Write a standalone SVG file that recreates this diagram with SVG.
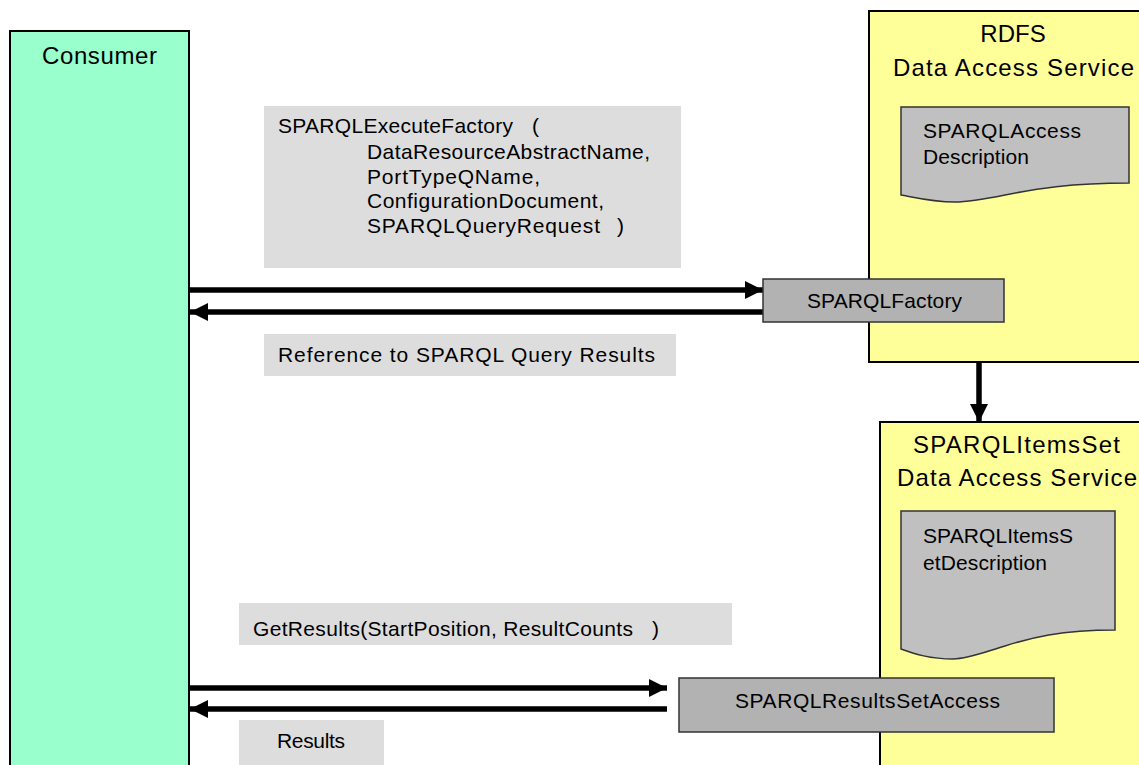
<svg xmlns="http://www.w3.org/2000/svg" width="1139" height="765" viewBox="0 0 1139 765">
  <style>
    text { font-family: "Liberation Sans", Arial, sans-serif; fill: #000; }
    .title { font-size: 24px; }
    .lbl { font-size: 21px; }
    .lane { stroke: #000; stroke-width: 2; }
    .doc { fill: #C0C0C0; stroke: #333; stroke-width: 1.5; }
    .op { fill: #B2B2B2; stroke: #333; stroke-width: 1.5; }
    .note { fill: #DDDDDD; }
    .flow { stroke: #000; stroke-width: 5.5; fill: none; }
  </style>
  <defs>
    <marker id="head" markerUnits="userSpaceOnUse" markerWidth="18" markerHeight="18" viewBox="0 0 18 18" refX="18" refY="9" orient="auto">
      <path d="M0,0 L18,9 L0,18 Z" fill="#000"/>
    </marker>
  </defs>

  <rect width="1139" height="765" fill="#fff"/>

  <!-- Consumer lane -->
  <g id="consumer">
    <rect class="lane" x="10" y="31" width="179" height="740" fill="#99FFCC"/>
    <text class="title" x="42" y="64" textLength="115">Consumer</text>
  </g>

  <!-- RDFS data access service -->
  <g id="rdfs-service">
    <rect class="lane" x="869" y="11" width="280" height="351" fill="#FFFF99"/>
    <text class="title" x="1013" y="42" text-anchor="middle">RDFS</text>
    <text class="title" x="893" y="76" textLength="241">Data Access Service</text>
  </g>
  <g id="sparql-access-description">
    <path class="doc" d="M901,107 H1129 V183 C1070,183 1035,189 1005,195 C985,199 968,202 955,202 C933,202 917,198 901,195 Z"/>
    <text class="lbl" x="923" y="138" textLength="158">SPARQLAccess</text>
    <text class="lbl" x="923" y="164" textLength="106">Description</text>
  </g>

  <!-- Items set data access service -->
  <g id="itemsset-service">
    <rect class="lane" x="880" y="422" width="270" height="350" fill="#FFFF99"/>
    <text class="title" x="913" y="453" textLength="207">SPARQLItemsSet</text>
    <text class="title" x="897" y="486" textLength="240">Data Access Service</text>
  </g>
  <g id="itemsset-description">
    <path class="doc" d="M901,511 H1115 V630 C1060,630 1030,638 1005,646 C985,652 968,659 953,659 C930,659 915,654 901,649 Z"/>
    <text class="lbl" x="923" y="543" textLength="150">SPARQLItemsS</text>
    <text class="lbl" x="923" y="570" textLength="124">etDescription</text>
  </g>

  <!-- Message notes -->
  <g id="note-execute">
    <rect class="note" x="264" y="106" width="417" height="162"/>
    <text class="lbl" x="278" y="133" textLength="235">SPARQLExecuteFactory</text>
    <text class="lbl" x="532" y="133">(</text>
    <text class="lbl" x="367" y="159" textLength="283">DataResourceAbstractName,</text>
    <text class="lbl" x="367" y="184" textLength="173">PortTypeQName,</text>
    <text class="lbl" x="367" y="208" textLength="237">ConfigurationDocument,</text>
    <text class="lbl" x="367" y="233" textLength="233">SPARQLQueryRequest</text>
    <text class="lbl" x="617" y="233">)</text>
  </g>
  <g id="note-reference">
    <rect class="note" x="264" y="334" width="412" height="42"/>
    <text class="lbl" x="278" y="362" textLength="377">Reference to SPARQL Query Results</text>
  </g>
  <g id="note-getresults">
    <rect class="note" x="239" y="603" width="493" height="42"/>
    <text class="lbl" x="253" y="636" textLength="380">GetResults(StartPosition, ResultCounts</text>
    <text class="lbl" x="652" y="636">)</text>
  </g>
  <g id="note-results">
    <rect class="note" x="239" y="720" width="145" height="50"/>
    <text class="lbl" x="277" y="748" textLength="68">Results</text>
  </g>

  <!-- Connectors -->
  <g id="connectors">
    <line class="flow" x1="189" y1="290" x2="763" y2="290" marker-end="url(#head)"/>
    <line class="flow" x1="763" y1="312" x2="190" y2="312" marker-end="url(#head)"/>
    <line class="flow" x1="979" y1="362" x2="979" y2="422" marker-end="url(#head)"/>
    <line class="flow" x1="189" y1="688" x2="667" y2="688" marker-end="url(#head)"/>
    <line class="flow" x1="667" y1="709" x2="190" y2="709" marker-end="url(#head)"/>
  </g>

  <!-- Operation ports -->
  <g id="sparql-factory">
    <rect class="op" x="763" y="279" width="241" height="43"/>
    <text class="lbl" x="807" y="308" textLength="155">SPARQLFactory</text>
  </g>
  <g id="results-set-access">
    <rect class="op" x="679" y="678" width="375" height="54"/>
    <text class="lbl" x="735" y="708" textLength="265">SPARQLResultsSetAccess</text>
  </g>
</svg>
